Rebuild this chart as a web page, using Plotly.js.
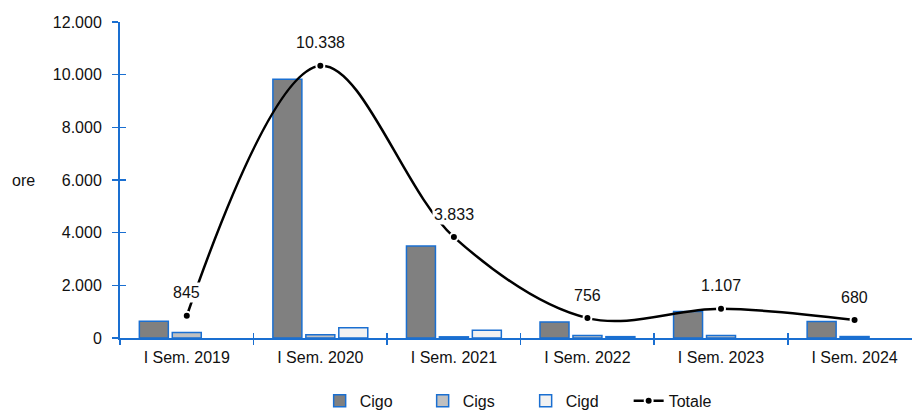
<!DOCTYPE html>
<html>
<head>
<meta charset="utf-8">
<script src="https://cdn.plot.ly/plotly-3.0.1.min.js"></script>
<style>
  html, body { margin: 0; padding: 0; background: #fff; overflow: hidden; }
  #chart { width: 912px; height: 412px; }
</style>
</head>
<body>
<div id="chart"></div>
<script>
// Ore autorizzate per semestre
const periodi = ["I Sem. 2019", "I Sem. 2020", "I Sem. 2021", "I Sem. 2022", "I Sem. 2023", "I Sem. 2024"];
const cigo   = [640, 9830, 3490, 610, 1010, 625];
const cigs   = [205, 120, 45, 95, 97, 55];
const cigd   = [null, 388, 298, 51, null, null];
const totale = [845, 10338, 3833, 756, 1107, 680];
const etichetteTotale = ["845", "10.338", "3.833", "756", "1.107", "680"];
const yTicks = [0, 2000, 4000, 6000, 8000, 10000, 12000];

const blu = "#1a6fd1";
const fontBase = "Liberation Sans, Arial, sans-serif";

function barre(nome, valori, riempimento) {
  return {
    type: "bar", name: nome, x: periodi, y: valori,
    marker: { color: riempimento, line: { color: blu, width: 1.5 } },
    hoverinfo: "x+y"
  };
}

const traces = [
  barre("Cigo", cigo, "#808080"),
  barre("Cigs", cigs, "#c0c0c0"),
  barre("Cigd", cigd, "#f2f2f2"),
  {
    type: "scatter", mode: "lines+markers", name: "Totale",
    x: periodi, y: totale,
    line: { color: "#000", width: 2.5, shape: "spline", smoothing: 1 },
    marker: { color: "#000", size: 8, line: { color: "#fff", width: 2 } }
  }
];

const annotations = periodi.map((p, i) => ({
  x: p, y: totale[i], xref: "x", yref: "y",
  text: etichetteTotale[i], showarrow: false,
  yshift: 23, bgcolor: "#fff", borderpad: 1,
  font: { family: fontBase, size: 16, color: "#111" }
}));
annotations.push({
  xref: "paper", yref: "paper", x: -0.105, y: 0.5, xanchor: "right",
  text: "ore", showarrow: false,
  font: { family: fontBase, size: 16, color: "#111" }
});

const layout = {
  width: 912, height: 412,
  margin: { l: 120, r: 0, t: 22, b: 74 },
  paper_bgcolor: "#fff", plot_bgcolor: "#fff",
  separators: ",.",
  barmode: "group", bargap: 0.26, bargroupgap: 0.12,
  font: { family: fontBase, size: 16, color: "#111" },
  xaxis: {
    type: "category", range: [-0.5, 5.43],
    showline: true, linecolor: blu, linewidth: 2,
    ticks: "outside", tickson: "boundaries", ticklen: 5, tickcolor: blu, tickwidth: 1.5,
    ticklabelstandoff: 4,
    showgrid: false, zeroline: false,
    tickfont: { family: fontBase, size: 16, color: "#111" }
  },
  xaxis2: {
    type: "category", range: [-0.5, 5.43], overlaying: "x", matches: "x",
    ticks: "inside", tickson: "boundaries", ticklen: 5, tickcolor: blu, tickwidth: 1.5,
    showticklabels: false, showgrid: false, zeroline: false, showline: false
  },
  yaxis: {
    range: [0, 12000], tickvals: yTicks, tickformat: ",d",
    showline: true, linecolor: blu, linewidth: 2,
    ticks: "outside", ticklen: 6, tickcolor: blu, tickwidth: 1.5,
    ticklabelstandoff: 7,
    showgrid: false, zeroline: false,
    tickfont: { family: fontBase, size: 16, color: "#111" }
  },
  yaxis2: {
    range: [0, 12000], overlaying: "y", matches: "y", tickvals: yTicks,
    ticks: "inside", ticklen: 6, tickcolor: blu, tickwidth: 1.5,
    showticklabels: false, showgrid: false, zeroline: false, showline: false
  },
  showlegend: true,
  legend: {
    orientation: "h", xref: "container", yref: "container",
    x: 0.3505, xanchor: "left", y: 0.027, yanchor: "middle",
    entrywidth: 58, font: { family: fontBase, size: 16, color: "#111" },
    traceorder: "normal"
  },
  annotations: annotations
};

// empty trace so the overlay axes with the crossing ticks are drawn
traces.push({ type: "scatter", x: [], y: [], xaxis: "x2", yaxis: "y2", showlegend: false, hoverinfo: "skip" });

Plotly.newPlot("chart", traces, layout, { displayModeBar: false, staticPlot: true });
</script>
</body>
</html>
